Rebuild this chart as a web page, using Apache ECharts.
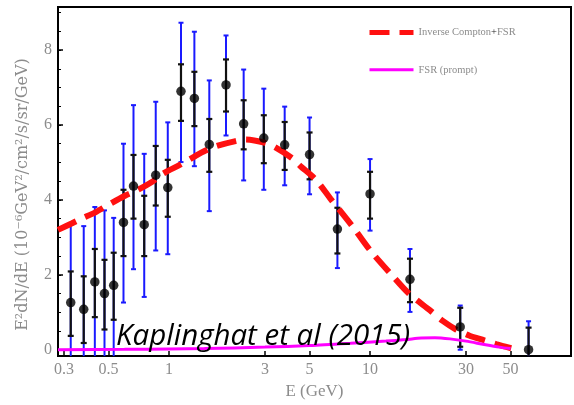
<!DOCTYPE html>
<html>
<head>
<meta charset="utf-8">
<script src="https://cdn.jsdelivr.net/npm/echarts@6/dist/echarts.min.js"></script>
<style>
  html, body { margin: 0; padding: 0; background: #fff; }
  #chart { width: 574px; height: 405px; }
</style>
</head>
<body>
<div id="chart"></div>
<script>
// Measured gamma-ray spectrum (E in GeV, E^2 dN/dE in 1e-6 GeV^2/cm^2/s/sr/GeV)
const energy   = [0.324, 0.376, 0.427, 0.477, 0.530, 0.593, 0.665, 0.752, 0.858, 0.985, 1.146, 1.336, 1.585, 1.92, 2.35, 2.96, 3.76, 5.0, 6.88, 10.0, 15.8, 28.1, 61.5];
const flux     = [1.26, 1.08, 1.81, 1.50, 1.72, 3.40, 4.37, 3.34, 4.66, 4.33, 6.90, 6.71, 5.48, 7.07, 6.03, 5.65, 5.47, 5.21, 3.22, 4.16, 1.88, 0.61, 0.00];
// statistical errors (black)
const statLow  = [0.37, 0.18, 0.87, 0.54, 0.80, 2.50, 3.50, 2.50, 3.85, 3.55, 6.11, 5.97, 4.75, 6.36, 5.35, 4.98, 4.80, 4.55, 2.57, 3.50, 1.27, 0.08, -0.60];
const statHigh = [2.09, 1.96, 2.69, 2.40, 2.59, 4.27, 5.20, 4.11, 5.44, 5.07, 7.62, 7.42, 6.16, 7.75, 6.66, 6.26, 6.08, 5.80, 3.79, 4.75, 2.43, 1.12, 0.59];
// total errors incl. systematics (blue)
const sysLow   = [-0.50, -0.50, -0.50, -0.50, -0.30, 1.26, 2.15, 1.41, 2.65, 2.55, 5.01, 4.90, 3.70, 5.72, 4.52, 4.27, 4.39, 4.15, 2.18, 3.18, 1.01, 0.00, -0.80];
const sysHigh  = [3.33, 3.30, 3.81, 3.72, 3.52, 5.50, 6.53, 5.23, 6.62, 6.07, 8.73, 8.49, 7.19, 8.39, 7.48, 6.97, 6.49, 6.20, 4.20, 5.09, 2.69, 1.18, 0.76];

// Model: inverse Compton + FSR
const icE    = [0.28, 0.327, 0.367, 0.427, 0.496, 0.603, 0.684, 0.832, 0.933, 1.135, 1.35, 1.51, 1.73, 2.14, 2.40, 3.01, 3.38, 4.10, 4.51, 5.35, 6.36, 8.29, 10.1, 12.7, 15.6, 19.9, 23.0, 26.8, 31.1, 37.0, 42.4, 50.4];
const icFlux = [3.20, 3.37, 3.50, 3.66, 3.86, 4.11, 4.24, 4.50, 4.70, 4.94, 5.17, 5.31, 5.44, 5.57, 5.61, 5.52, 5.40, 5.11, 4.90, 4.55, 4.03, 3.25, 2.63, 2.02, 1.50, 1.05, 0.77, 0.54, 0.38, 0.25, 0.15, 0.04];
// Model: prompt FSR only
const fsrE    = [0.28, 0.6, 1.0, 1.5, 3.0, 5.0, 8.0, 12.0, 15.0, 18.0, 21.0, 25.0, 30.0, 37.0, 44.0, 50.0];
const fsrFlux = [0.00, 0.01, 0.02, 0.03, 0.07, 0.11, 0.17, 0.23, 0.27, 0.31, 0.32, 0.29, 0.23, 0.14, 0.07, 0.03];

const xTicks = [0.3, 0.5, 1, 3, 5, 10, 30, 50];
const yLabels = [0, 2, 4, 6, 8];
const yMinor = [0, 0.5, 1, 1.5, 2, 2.5, 3, 3.5, 4, 4.5, 5, 5.5, 6, 6.5, 7, 7.5, 8, 8.5, 9];

const gray = '#8c8c8c';
const serif = 'Liberation Serif';
const red = '#ff1010';
const magenta = '#ff00ff';

function zip(a, b) { return a.map((v, i) => [v, b[i]]); }

function errorBars(color, lo, hi, width, cap) {
  return {
    type: 'custom',
    data: energy.map((e, i) => [e, lo[i], hi[i]]),
    encode: { x: 0, y: [1, 2] },
    z: 2,
    silent: true,
    renderItem: function (params, api) {
      const rect = params.coordSys;
      const top = rect.y, bottom = rect.y + rect.height;
      const pLo = api.coord([api.value(0), api.value(1)]);
      const pHi = api.coord([api.value(0), api.value(2)]);
      const x = pLo[0];
      const y1 = Math.min(pLo[1], bottom), y2 = Math.max(pHi[1], top);
      const style = { stroke: color, lineWidth: width };
      const kids = [{ type: 'line', shape: { x1: x, y1: y1, x2: x, y2: y2 }, style: style }];
      if (pLo[1] <= bottom) kids.push({ type: 'line', shape: { x1: x - cap, y1: y1, x2: x + cap, y2: y1 }, style: style });
      if (pHi[1] >= top) kids.push({ type: 'line', shape: { x1: x - cap, y1: y2, x2: x + cap, y2: y2 }, style: style });
      return { type: 'group', children: kids };
    }
  };
}

const chart = echarts.init(document.getElementById('chart'), null, { renderer: 'canvas' });

chart.setOption({
  animation: false,
  backgroundColor: '#fff',
  grid: { left: 58, right: 3, top: 7, bottom: 41, show: true, borderColor: '#000', borderWidth: 2, backgroundColor: 'transparent' },
  legend: {
    orient: 'vertical',
    left: 367, top: 27, padding: 0,
    itemWidth: 44, itemHeight: 14, itemGap: 26,
    itemStyle: { opacity: 0 },
    data: [
      { name: 'ic', lineStyle: { color: red, width: 5, type: [20, 10] } },
      { name: 'fsr', lineStyle: { color: magenta, width: 3, type: 'solid' } }
    ],
    formatter: function (n) { return n === 'ic' ? 'Inverse Compton{p|+}FSR' : 'FSR (prompt)'; },
    textStyle: { color: gray, fontFamily: serif, fontSize: 10.5, padding: [0, 0, 0, 0],
      rich: { p: { color: '#222', fontFamily: serif, fontSize: 10.5 } } }
  },
  xAxis: {
    type: 'log', logBase: 10, min: 0.28, max: 100,
    name: 'E (GeV)', nameLocation: 'middle', nameGap: 25,
    nameTextStyle: { color: gray, fontFamily: serif, fontSize: 17 },
    axisLine: { show: false, onZero: false },
    axisTick: { show: true, inside: true, length: 5, customValues: xTicks, lineStyle: { color: '#000', width: 1.5 } },
    axisLabel: { show: true, customValues: xTicks, color: gray, fontFamily: serif, fontSize: 16, margin: 6,
      formatter: function (v) { return String(Number(v.toPrecision(3))); } },
    splitLine: { show: false },
    minorTick: { show: false }
  },
  yAxis: [{
    type: 'value', min: -0.17, max: 9.15,
    name: 'E\u00B2dN/dE (10\u207B\u2076GeV\u00B2/cm\u00B2/s/sr/GeV)', nameLocation: 'middle', nameGap: 27, nameRotate: 90,
    nameTextStyle: { color: gray, fontFamily: 'DejaVu Serif', fontSize: 16, padding: [0, 26, 0, 0] },
    axisLine: { show: false },
    axisTick: { show: true, inside: true, length: 5, customValues: yLabels, lineStyle: { color: '#000', width: 1.5 } },
    axisLabel: { show: true, customValues: yLabels, color: gray, fontFamily: serif, fontSize: 16, margin: 6 },
    splitLine: { show: false }
  }, {
    type: 'value', min: -0.17, max: 9.15, position: 'left',
    axisLine: { show: false },
    axisTick: { show: true, inside: true, length: 3, customValues: yMinor, lineStyle: { color: '#000', width: 1 } },
    axisLabel: { show: false },
    splitLine: { show: false }
  }],
  graphic: [{
    type: 'text', left: 116, top: 322, z: 10,
    style: { text: 'Kaplinghat et al (2015)', fill: '#000', font: 'italic 29.5px "Open Sans"' }
  }],
  series: [
    errorBars('#1a1aff', sysLow, sysHigh, 2, 2.5),
    errorBars('#111', statLow, statHigh, 2.2, 3),
    {
      name: 'ic', type: 'line', data: zip(icE, icFlux), smooth: 0.3,
      symbol: 'none', z: 3, clip: true,
      lineStyle: { color: red, width: 6, type: [20, 10] },
      itemStyle: { color: red }
    },
    {
      name: 'fsr', type: 'line', data: zip(fsrE, fsrFlux), smooth: 0.3,
      symbol: 'none', z: 3, clip: true,
      lineStyle: { color: magenta, width: 3 },
      itemStyle: { color: magenta }
    },
    {
      type: 'scatter', data: zip(energy, flux), symbol: 'circle', symbolSize: 9.5, z: 4,
      itemStyle: { color: '#000' }
    }
  ]
});
</script>
</body>
</html>
